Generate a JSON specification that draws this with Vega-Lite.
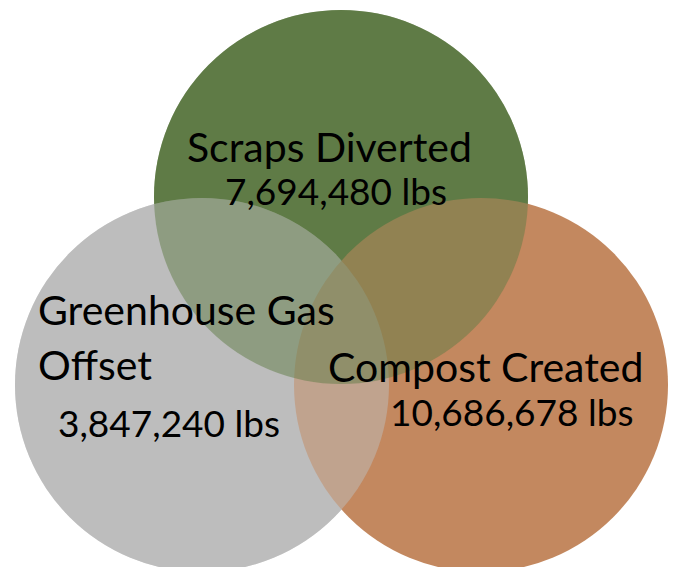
{
  "$schema": "https://vega.github.io/schema/vega-lite/v6.json",
  "width": 673,
  "height": 567,
  "autosize": "none",
  "padding": 0,
  "background": "white",
  "config": {"view": {"stroke": null}},
  "datasets": {
    "circles": [
      {"name": "Scraps Diverted", "cx": 341, "cy": 197, "rank": 1, "avg": 2},
      {"name": "Greenhouse Gas Offset", "cx": 202, "cy": 385, "rank": 2, "avg": 1},
      {"name": "Compost Created", "cx": 481, "cy": 385, "rank": 3, "avg": 0}
    ],
    "titles": [
      {"text": "Scraps Diverted", "x": 187, "y": 162},
      {"text": "Greenhouse Gas", "x": 38, "y": 325},
      {"text": "Offset", "x": 38, "y": 380},
      {"text": "Compost Created", "x": 328, "y": 382}
    ],
    "numbers": [
      {"text": "7,694,480 lbs", "x": 225, "y": 205},
      {"text": "3,847,240 lbs", "x": 58, "y": 437},
      {"text": "10,686,678 lbs", "x": 390, "y": 426}
    ]
  },
  "layer": [
    {
      "data": {"name": "circles"},
      "mark": {"type": "point", "shape": "circle", "filled": true, "opacity": 1, "size": 139876, "strokeWidth": 0},
      "encoding": {
        "x": {"field": "cx", "type": "quantitative", "scale": {"domain": [0, 673], "nice": false, "zero": false}, "axis": null},
        "y": {"field": "cy", "type": "quantitative", "scale": {"domain": [0, 567], "nice": false, "zero": false, "reverse": true}, "axis": null},
        "color": {"field": "name", "type": "nominal", "scale": {"domain": ["Scraps Diverted", "Greenhouse Gas Offset", "Compost Created"], "range": ["#5f7b46", "#bdbdbd", "#c3885f"]}, "legend": null},
        "order": {"field": "rank", "type": "quantitative"}
      }
    },
    {
      "data": {"name": "circles"},
      "transform": [{"filter": "datum.avg > 0"}],
      "mark": {"type": "point", "shape": "circle", "filled": true, "opacity": 0.5, "size": 139876, "strokeWidth": 0},
      "encoding": {
        "x": {"field": "cx", "type": "quantitative", "scale": {"domain": [0, 673], "nice": false, "zero": false}, "axis": null},
        "y": {"field": "cy", "type": "quantitative", "scale": {"domain": [0, 567], "nice": false, "zero": false, "reverse": true}, "axis": null},
        "color": {"field": "name", "type": "nominal", "scale": {"domain": ["Scraps Diverted", "Greenhouse Gas Offset", "Compost Created"], "range": ["#5f7b46", "#bdbdbd", "#c3885f"]}, "legend": null},
        "order": {"field": "avg", "type": "quantitative"}
      }
    },
    {
      "data": {"name": "titles"},
      "mark": {"type": "text", "align": "left", "baseline": "alphabetic", "font": "Lato", "fontSize": 41, "color": "#000000"},
      "encoding": {
        "x": {"field": "x", "type": "quantitative", "scale": {"domain": [0, 673], "nice": false, "zero": false}, "axis": null},
        "y": {"field": "y", "type": "quantitative", "scale": {"domain": [0, 567], "nice": false, "zero": false, "reverse": true}, "axis": null},
        "text": {"field": "text", "type": "nominal"}
      }
    },
    {
      "data": {"name": "numbers"},
      "mark": {"type": "text", "align": "left", "baseline": "alphabetic", "font": "Lato", "fontSize": 37, "color": "#000000"},
      "encoding": {
        "x": {"field": "x", "type": "quantitative", "scale": {"domain": [0, 673], "nice": false, "zero": false}, "axis": null},
        "y": {"field": "y", "type": "quantitative", "scale": {"domain": [0, 567], "nice": false, "zero": false, "reverse": true}, "axis": null},
        "text": {"field": "text", "type": "nominal"}
      }
    }
  ]
}
